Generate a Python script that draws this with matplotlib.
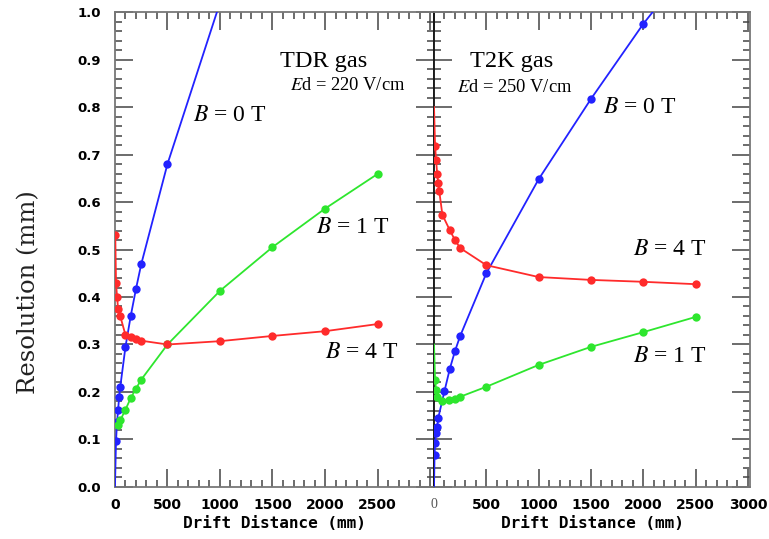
import matplotlib.pyplot as plt
import numpy as np
from matplotlib.ticker import MultipleLocator

plt.rcParams['mathtext.fontset'] = 'stix'

# ---- data ----
# TDR gas (left panel)
tdr_b0_x = [10, 20, 30, 40, 50, 100, 150, 200, 250, 500]
tdr_b0_y = [0.097, 0.137, 0.163, 0.19, 0.21, 0.295, 0.36, 0.417, 0.469, 0.68]
tdr_b1_x = [30, 50, 100, 150, 200, 250, 500, 1000, 1500, 2000, 2500]
tdr_b1_y = [0.13, 0.14, 0.163, 0.187, 0.207, 0.226, 0.30, 0.413, 0.505, 0.586, 0.659]
tdr_b4_x = [3, 10, 20, 30, 50, 100, 150, 200, 250, 500, 1000, 1500, 2000, 2500]
tdr_b4_y = [0.53, 0.43, 0.40, 0.375, 0.36, 0.32, 0.316, 0.312, 0.308, 0.30, 0.307, 0.318, 0.328, 0.343]

# T2K gas (right panel)
t2k_b0_x = [5, 10, 20, 30, 40, 100, 150, 200, 250, 500, 1000, 1500, 2000]
t2k_b0_y = [0.067, 0.093, 0.114, 0.126, 0.145, 0.202, 0.248, 0.286, 0.318, 0.45, 0.648, 0.817, 0.975]
t2k_b1_x = [10, 20, 30, 80, 140, 200, 250, 500, 1000, 1500, 2000, 2500]
t2k_b1_y = [0.225, 0.204, 0.19, 0.181, 0.183, 0.185, 0.19, 0.211, 0.257, 0.295, 0.326, 0.358]
t2k_b4_x = [10, 20, 30, 40, 50, 80, 150, 200, 250, 500, 1000, 1500, 2000, 2500]
t2k_b4_y = [0.718, 0.688, 0.66, 0.64, 0.623, 0.573, 0.541, 0.52, 0.503, 0.467, 0.442, 0.436, 0.432, 0.427]

# where the fit lines start / end beyond the markers
tdr_b0_ends = [(0, 0.0), (971, 1.0)]
t2k_b0_ends = [(0, 0.0), (2090, 1.0)]
t2k_b1_start = (0, 0.30)
t2k_b4_start = (0, 0.80)

BLUE = '#2222ff'
GREEN = '#2ee62e'
RED = '#ff2b2b'

fig = plt.figure(figsize=(7.69, 5.39), dpi=100)
ax1 = fig.add_axes([0.1495, 0.0965, 0.4149, 0.8812])
ax2 = fig.add_axes([0.5644, 0.0965, 0.4109, 0.8812])


def series(ax, x, y, color, start=None, end=None):
    lx, ly = list(x), list(y)
    if start is not None:
        lx.insert(0, start[0])
        ly.insert(0, start[1])
    if end is not None:
        lx.append(end[0])
        ly.append(end[1])
    ax.plot(lx, ly, color=color, lw=1.3, zorder=3)
    ax.plot(x, y, 'o', color=color, ms=6, mew=0, zorder=4)


series(ax1, tdr_b0_x, tdr_b0_y, BLUE, tdr_b0_ends[0], tdr_b0_ends[1])
series(ax1, tdr_b1_x, tdr_b1_y, GREEN)
series(ax1, tdr_b4_x, tdr_b4_y, RED)

series(ax2, t2k_b0_x, t2k_b0_y, BLUE, t2k_b0_ends[0], t2k_b0_ends[1])
series(ax2, t2k_b1_x, t2k_b1_y, GREEN, t2k_b1_start)
series(ax2, t2k_b4_x, t2k_b4_y, RED, t2k_b4_start)

TICKFS = 10
for ax, xmax in ((ax1, 3038), (ax2, 3020)):
    ax.set_xlim(0, xmax)
    ax.set_ylim(0, 1.0)
    ax.xaxis.set_major_locator(MultipleLocator(500))
    ax.xaxis.set_minor_locator(MultipleLocator(100))
    ax.yaxis.set_major_locator(MultipleLocator(0.1))
    ax.yaxis.set_minor_locator(MultipleLocator(0.02))
    ax.tick_params(which='both', direction='in', top=True, right=True,
                   color='#444444', width=1.1)
    ax.tick_params(which='major', length=13)
    ax.tick_params(which='minor', length=5)
    ax.tick_params(axis='x', pad=8)
    ax.tick_params(axis='y', pad=10)
    for sp in ax.spines.values():
        sp.set_color('#777777')
        sp.set_linewidth(1.3)
    ax.set_xlabel('Drift Distance (mm)', family='DejaVu Sans Mono',
                  fontweight='bold', fontsize=11.5, labelpad=3)

ax1.set_xticks([0, 500, 1000, 1500, 2000, 2500, 3000])
ax1.set_xticklabels(['0', '500', '1000', '1500', '2000', '2500', ''],
                    fontweight='bold', fontsize=TICKFS)
ax1.set_yticks(np.arange(0, 1.01, 0.1))
ax1.set_yticklabels(['%.1f' % v for v in np.arange(0, 1.01, 0.1)],
                    fontweight='bold', fontsize=9.5)
ax2.set_xticks([0, 500, 1000, 1500, 2000, 2500, 3000])
ax2.set_xticklabels(['0', '500', '1000', '1500', '2000', '2500', '3000'],
                    fontweight='bold', fontsize=TICKFS)
ax2.get_xticklabels()[0].set_fontweight('normal')
ax2.get_xticklabels()[0].set_family('Liberation Serif')
ax2.get_xticklabels()[0].set_color('#555555')
ax2.tick_params(axis='y', labelleft=False)
ax2.spines['left'].set_color('#111111')

serif = 'Liberation Serif'
BFS = 17
GFS = 17.5
EFS = 13.3
# left panel annotations
ax1.text(1571, 0.895, 'TDR gas', family=serif, fontsize=GFS, va='center')
ax1.text(1667, 0.846, '$E$d = 220 V/cm', family=serif, fontsize=EFS, va='center')
ax1.text(743, 0.783, '$B$ = 0 T', family=serif, fontsize=BFS, va='center')
ax1.text(1914, 0.547, '$B$ = 1 T', family=serif, fontsize=BFS, va='center')
ax1.text(2000, 0.284, '$B$ = 4 T', family=serif, fontsize=BFS, va='center')
# right panel annotations
ax2.text(348, 0.895, 'T2K gas', family=serif, fontsize=GFS, va='center')
ax2.text(224, 0.842, '$E$d = 250 V/cm', family=serif, fontsize=EFS, va='center')
ax2.text(1614, 0.798, '$B$ = 0 T', family=serif, fontsize=BFS, va='center')
ax2.text(1900, 0.499, '$B$ = 4 T', family=serif, fontsize=BFS, va='center')
ax2.text(1900, 0.274, '$B$ = 1 T', family=serif, fontsize=BFS, va='center')

fig.text(0.037, 1 - 292 / 539, 'Resolution (mm)', family='DejaVu Serif',
         fontsize=17.5, rotation=90, va='center', ha='center', color='#222222')

fig.savefig('out.png', dpi=100)
